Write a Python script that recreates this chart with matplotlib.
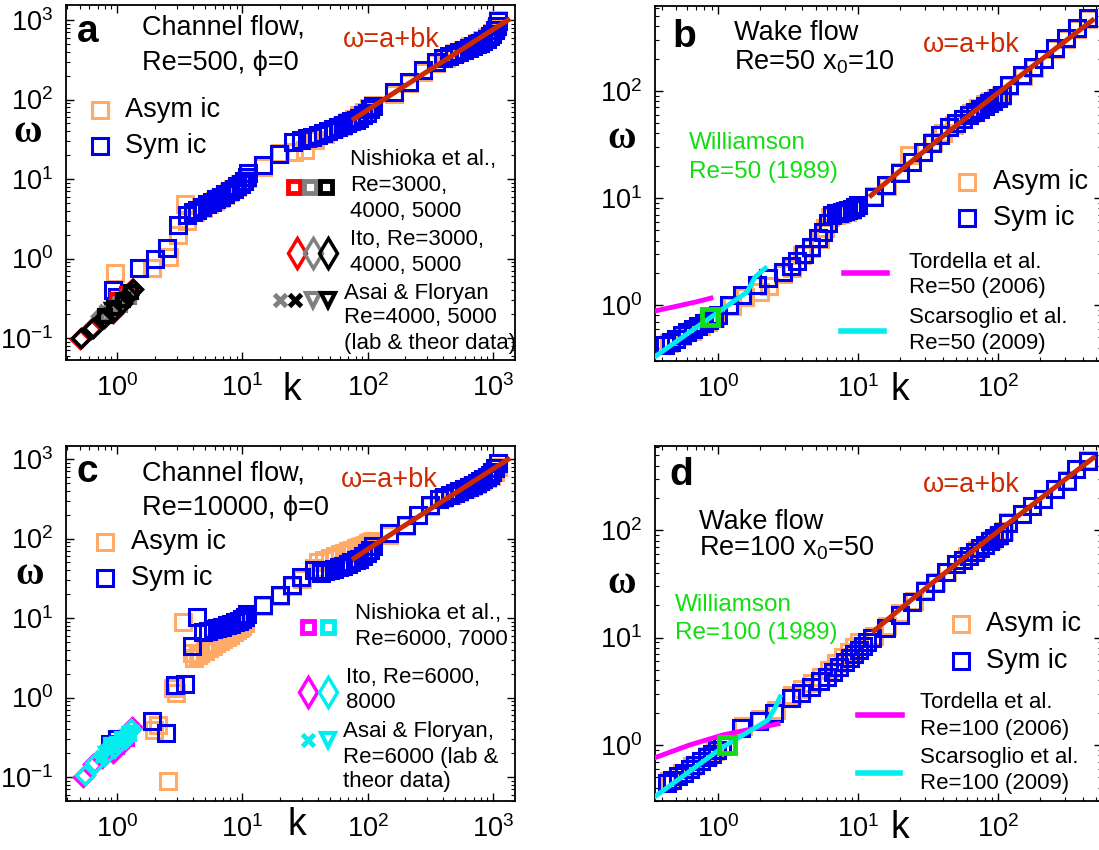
import numpy as np
import matplotlib.pyplot as plt

plt.rcParams['font.family'] = ['Liberation Sans', 'DejaVu Sans']
plt.rcParams['mathtext.fontset'] = 'custom'
plt.rcParams['mathtext.rm'] = 'Liberation Sans'
plt.rcParams['mathtext.it'] = 'Liberation Sans:italic'
plt.rcParams['mathtext.bf'] = 'Liberation Sans:bold'

#%% data
# panel a : channel flow Re=500
a_sym_k = [0.93, 1.0, 1.5, 2.0, 2.5, 3.05, 3.6, 4.0,
           4.3, 4.75, 5.2, 5.7, 6.2, 6.7, 7.3, 7.9, 8.5, 9.1, 9.7, 10.3, 10.8, 11.0,
           14.7, 19.5, 25.5, 29.5, 33,
           36, 40, 44, 48, 53, 58, 63, 68, 74, 80, 86, 92, 98, 104, 110,
           161, 213, 276, 350,
           400, 445, 490, 540, 590, 640, 690, 740, 790, 840, 890, 940, 990,
           1040, 1080, 1100]
a_sym_w = [0.40, 0.33, 0.75, 1.0, 1.34, 2.63, 3.5, 3.9,
           4.1, 4.4, 4.8, 5.2, 5.6, 6.0, 6.5, 7.0, 7.6, 8.1, 8.7, 9.5, 10.6, 11.8,
           15.0, 20.5, 29, 31, 33,
           34, 36, 38, 40, 42.5, 45, 47.5, 50, 53, 56, 59, 63, 68, 75, 84,
           123, 166, 235, 297,
           330, 350, 370, 395, 420, 445, 470, 495, 520, 550, 585, 625, 675,
           750, 850, 970]
a_asym_k = [0.96, 1.9, 2.6, 3.05, 3.5, 3.6, 4.2, 4.8, 5.4, 6.0, 6.6, 7.2, 7.8,
            8.4, 9.0, 9.6, 10.2, 10.8, 14.7, 20, 26, 31.5, 38, 46, 54, 62, 70,
            78, 86, 94, 102, 110, 161, 213, 276, 350, 420, 500, 580, 660, 740,
            820, 900, 980, 1050, 1100]
a_asym_w = [0.65, 0.77, 1.05, 1.96, 4.9, 3.0, 3.8, 4.3, 4.8, 5.3, 5.8, 6.3, 6.8,
            7.4, 8.0, 8.7, 9.5, 10.3, 14.0, 21, 22, 23, 31, 37, 42, 47, 52,
            57, 63, 70, 78, 86, 118, 160, 225, 290, 335, 380, 420, 465, 510,
            560, 620, 690, 800, 1000]
a_fit = (-2.0, 0.76, 75, 1370)       # a, b, k from, k to

a_ito_red_k = [0.50, 0.62, 0.76, 0.92, 1.08, 1.2, 1.32]
a_ito_red_w = [0.098, 0.13, 0.172, 0.205, 0.27, 0.34, 0.41]
a_ito_grey_k = [0.74, 0.88, 1.03, 1.16, 1.28]
a_ito_grey_w = [0.19, 0.22, 0.28, 0.33, 0.39]
a_ito_black_k = [0.51, 0.64, 0.78, 0.93, 1.1, 1.22, 1.34]
a_ito_black_w = [0.10, 0.135, 0.18, 0.21, 0.275, 0.35, 0.42]
a_nish_red_k = [1.0, 1.2]
a_nish_red_w = [0.30, 0.36]
a_nish_grey_k = [0.85, 1.05, 1.25]
a_nish_grey_w = [0.20, 0.26, 0.33]
a_nish_black_k = [0.8, 0.95, 1.12, 1.28]
a_nish_black_w = [0.19, 0.24, 0.30, 0.38]
a_asai_grey_k = [0.82, 0.95, 1.08]
a_asai_grey_w = [0.22, 0.25, 0.29]
a_asai_black_k = [0.9, 1.02]
a_asai_black_w = [0.23, 0.27]

# panel b : wake flow Re=50
b_sym_k = [0.42, 0.46, 0.5, 0.55, 0.6, 0.66, 0.72, 0.79, 0.86, 0.93, 1.0,
           1.2, 1.48, 1.9, 2.27, 2.9, 3.3, 3.66, 4.1, 4.6, 5.2, 5.6, 6.1, 6.5,
           6.9, 7.3, 7.7, 8.1, 8.5, 9.0, 9.5, 10.0,
           13, 15.8, 19.9, 24.3, 29, 33.8, 38.5, 44.6,
           50, 56, 62, 68, 74, 80, 86, 92, 99, 106,
           120, 148, 178, 212, 255, 305, 365, 440]
b_sym_w = [0.42, 0.45, 0.48, 0.52, 0.56, 0.6, 0.64, 0.68, 0.72, 0.76, 0.8,
           1.0, 1.24, 1.55, 1.79, 2.05, 2.3, 2.55, 3.0, 3.5, 4.2, 4.8, 5.8, 6.9,
           7.2, 7.3, 7.45, 7.6, 7.75, 7.95, 8.2, 8.6,
           10.2, 13.2, 17.1, 21.7, 27, 32.6, 38.8, 46,
           50, 54.5, 59, 63.5, 68, 72.5, 77, 81, 86, 92,
           113, 140, 168, 200, 250, 310, 385, 475]
b_asym_k = [0.45, 0.55, 0.65, 0.75, 0.85, 0.95, 1.25, 1.55, 2.0, 2.3, 2.9, 3.4,
            4.0, 4.6, 5.3, 5.8, 6.3, 7.0, 7.6, 8.3, 9.0, 9.7, 13, 16, 20, 23,
            29, 34, 40, 48, 56, 64, 72, 80, 88, 96, 104, 120, 150, 180, 212,
            255, 305, 365, 440]
b_asym_w = [0.44, 0.51, 0.57, 0.63, 0.69, 0.75, 0.98, 1.2, 1.33, 1.5, 1.95, 2.2,
            2.9, 3.4, 4.1, 5.2, 6.6, 6.9, 7.1, 7.4, 7.7, 8.2, 10.5, 13, 17.5, 25,
            27, 33, 40, 48, 55, 62, 69, 75, 80, 85, 90, 112, 138, 165, 198,
            248, 305, 380, 470]
b_fit = (-1.5, 0.974, 12, 485)
b_tord_k = [0.355, 0.5, 0.7, 0.89]
b_tord_w = [0.88, 0.97, 1.07, 1.16]
b_scar_k = [0.355, 0.74, 1.61, 1.84, 2.17]
b_scar_w = [0.33, 0.65, 1.32, 1.83, 2.2]
b_will_k = [0.88]
b_will_w = [0.77]

# panel c : channel flow Re=10000
c_sym_k = [0.88, 1.0, 1.9, 2.45, 2.87, 3.48, 3.96, 4.36,
           4.8, 5.3, 5.8, 6.3, 6.9, 7.5, 8.1, 8.7, 9.3, 9.9, 10.5, 10.9,
           14.7, 20, 25, 29.5, 37,
           42, 46, 50, 54, 59, 64, 69, 74, 80, 86, 92, 98, 104, 110,
           147, 202, 253, 316,
           370, 410, 450, 495, 540, 590, 640, 690, 740, 790, 840, 890, 940, 990,
           1040, 1090]
c_sym_w = [0.26, 0.30, 0.5, 0.36, 1.44, 1.5, 4.4, 10.4,
           6.6, 6.9, 7.2, 7.5, 7.8, 8.1, 8.4, 8.8, 9.2, 9.7, 10.4, 11.2,
           14.6, 19.6, 26, 33, 40,
           37, 38.5, 40, 41.5, 43.5, 45.5, 47.5, 50, 53, 56, 60, 65, 71, 80,
           116, 150, 200, 266,
           315, 335, 355, 378, 400, 425, 450, 475, 500, 530, 560, 595, 635, 690,
           770, 880]
c_asym_k = [2.53, 1.96, 2.1, 2.97, 2.8, 3.37, 3.96, 4.1, 4.4,
            4.6, 5.0, 5.4, 5.8, 6.2, 6.6, 7.0, 7.5, 8.0, 8.5, 9.0, 9.5, 10.0,
            10.5, 14.7, 20, 25, 30, 37,
            40, 45, 50, 55, 60, 65, 70, 75, 80, 85, 90, 95, 100, 105, 110,
            147, 202, 253, 316, 400, 470, 540, 610, 680, 750, 820, 890, 960,
            1030, 1100]
c_asym_w = [0.088, 0.39, 0.45, 1.13, 1.3, 9.0, 3.6, 3.1, 3.4,
            3.6, 3.9, 4.2, 4.5, 4.8, 5.1, 5.4, 5.8, 6.2, 6.6, 7.0, 7.5, 8.0,
            8.6, 14, 19, 25, 31, 42,
            50, 54, 57, 60, 63, 66, 69, 72, 75, 78, 81, 84, 87, 90, 93,
            112, 145, 195, 260, 320, 350, 385, 420, 455, 490, 530, 570, 620,
            690, 800]
c_fit = (-2.0, 0.75, 75, 1370)

c_ito_mag_k = [0.53, 0.64, 0.76, 0.93, 1.12, 1.32]
c_ito_mag_w = [0.10, 0.144, 0.176, 0.2, 0.27, 0.43]
c_ito_cyan_k = [0.55, 0.66, 0.78, 0.95, 1.15, 1.3]
c_ito_cyan_w = [0.105, 0.15, 0.185, 0.23, 0.3, 0.4]
c_nish_mag_k = [0.85, 1.0, 1.2]
c_nish_mag_w = [0.20, 0.24, 0.30]
c_nish_cyan_k = [0.9, 1.1, 1.25]
c_nish_cyan_w = [0.25, 0.30, 0.35]
c_asai_x_k = [0.75, 0.85, 0.95, 1.05, 1.15, 1.25]
c_asai_x_w = [0.18, 0.22, 0.25, 0.28, 0.31, 0.34]
c_asai_v_k = [0.8, 0.9, 1.0, 1.1, 1.2, 1.3]
c_asai_v_w = [0.20, 0.24, 0.27, 0.30, 0.33, 0.37]

# panel d : wake flow Re=100
d_sym_k = [0.43, 0.47, 0.52, 0.57, 0.63, 0.69, 0.76, 0.83, 0.9, 0.98, 1.06,
           1.45, 1.95, 2.5, 3.3, 3.9, 4.6, 5.3, 6.0,
           6.6, 7.3, 8.0, 8.7, 9.4, 10.1, 10.8, 11.5,
           12.6, 15.8, 19.9, 24.3, 30, 35.4, 42.5, 50,
           56, 62, 68, 74, 80, 87, 94, 101, 108,
           118, 148, 175, 210, 255, 310, 360, 440]
d_sym_w = [0.44, 0.47, 0.51, 0.55, 0.6, 0.65, 0.71, 0.77, 0.83, 0.9, 0.98,
           1.45, 1.68, 2.0, 2.75, 3.05, 3.5, 3.9, 4.3,
           4.8, 5.3, 5.9, 6.5, 7.1, 7.7, 8.3, 9.0,
           10, 12.4, 16.4, 21.3, 27, 32.6, 40.5, 48,
           53, 58, 63, 68, 73, 79, 85, 91, 97,
           118, 141, 167, 195, 240, 290, 370, 445]
d_asym_k = [0.45, 0.55, 0.65, 0.75, 0.85, 0.95, 1.5, 2.0, 2.6, 3.4, 4.0, 4.7,
            5.4, 6.2, 7.0, 7.8, 8.6, 9.4, 10.2, 13, 16, 20, 25, 30, 36, 43,
            50, 60, 70, 80, 90, 100, 110, 118, 148, 175, 210, 255, 310, 360, 440]
d_asym_w = [0.46, 0.55, 0.63, 0.71, 0.79, 0.87, 1.5, 1.75, 2.1, 2.9, 3.3, 3.8,
            4.3, 5.0, 5.8, 6.6, 7.4, 8.2, 9.0, 10.3, 12.8, 17, 22, 27.5, 33, 41,
            49, 57, 65, 73, 81, 89, 98, 119, 142, 168, 197, 242, 292, 372, 447]
d_fit = (-1.4, 0.995, 12.6, 494)
d_tord_k = [0.355, 0.63, 1.09, 1.8, 2.68]
d_tord_w = [0.76, 1.0, 1.24, 1.42, 1.57]
d_scar_k = [0.355, 1.09, 2.27, 2.55, 2.77]
d_scar_w = [0.33, 0.96, 1.7, 2.2, 2.8]
d_will_k = [1.16]
d_will_w = [1.0]

#%% style
W, H = 1099, 850
ORANGE = '#ffaa66'
BLUE = '#0000ee'
FIT = '#cc2a00'
GREEN = '#11dd11'
MAG = '#ff00ff'
CYAN = '#00eeee'
GREY = '#808080'
SMALL = 16

fig = plt.figure(figsize=(W / 100, H / 100), dpi=100)


def make_axes(left, top, right, bottom, xlim, ylim):
    ax = fig.add_axes([left / W, 1 - bottom / H, (right - left) / W, (bottom - top) / H])
    ax.set_xscale('log')
    ax.set_yscale('log')
    ax.set_xlim(xlim)
    ax.set_ylim(ylim)
    ax.tick_params(which='both', direction='in', top=True, right=True, labelsize=19.5)
    ax.tick_params(which='major', length=6, width=1)
    ax.tick_params(which='minor', length=3, width=0.8)
    ax.tick_params(axis='x', pad=10)
    ax.tick_params(axis='y', pad=9)
    for s in ax.spines.values():
        s.set_linewidth(1.3)
    return ax


def txt(x, y, s, size=19.5, color='k', **kw):
    fig.text(x / W, 1 - y / H, s, fontsize=size, color=color, ha='left', va='center', **kw)


def glyph(ax, x, y, marker, color, ms, mew, mfc='none'):
    ax.plot([x / W], [1 - y / H], ls='none', marker=marker, ms=ms, mec=color, mfc=mfc,
            mew=mew, transform=fig.transFigure, clip_on=False, zorder=10)


def seg(ax, x0, x1, y, color):
    ax.plot([x0 / W, x1 / W], [1 - y / H, 1 - y / H], color=color, lw=4,
            transform=fig.transFigure, clip_on=False, zorder=10)


def squares(ax, k, w, color, z):
    ax.plot(k, w, ls='none', marker='s', ms=11.5, mfc='none', mec=color, mew=2.2, zorder=z)


def fit_line(ax, fit):
    a, b, k0, k1 = fit
    kk = np.geomspace(k0, k1, 60)
    ax.plot(kk, a + b * kk, color=FIT, lw=3.6, zorder=8, solid_capstyle='butt')


def axis_names(ax, wx, wy, kx, ky):
    ax.text(wx, wy, 'ω', transform=ax.transAxes, fontsize=28, fontweight='bold',
            family='Liberation Serif', ha='center', va='center')
    ax.text(kx, ky, 'k', transform=ax.transAxes, fontsize=27, ha='center', va='center')


#%% panel a
ax = make_axes(66, 5, 515, 360, (0.39, 1500), (0.053, 1545))
squares(ax, a_asym_k, a_asym_w, ORANGE, 2)
squares(ax, a_sym_k, a_sym_w, BLUE, 3)
ax.plot(a_asai_grey_k, a_asai_grey_w, ls='none', marker='x', ms=8, mew=3, color=GREY, zorder=4)
ax.plot(a_asai_black_k, a_asai_black_w, ls='none', marker='v', ms=8, mew=2.5, mfc='none', mec='k', zorder=4)
ax.plot(a_ito_red_k, a_ito_red_w, ls='none', marker='D', ms=9, mew=2.5, mfc='none', mec='red', zorder=5)
ax.plot(a_nish_red_k, a_nish_red_w, ls='none', marker='s', ms=8, mew=3, mfc='none', mec='red', zorder=5)
ax.plot(a_ito_grey_k, a_ito_grey_w, ls='none', marker='D', ms=9, mew=2.5, mfc='none', mec=GREY, zorder=5)
ax.plot(a_nish_grey_k, a_nish_grey_w, ls='none', marker='s', ms=8, mew=3, mfc='none', mec=GREY, zorder=5)
ax.plot(a_ito_black_k, a_ito_black_w, ls='none', marker='D', ms=9, mew=2.5, mfc='none', mec='k', zorder=6)
ax.plot(a_nish_black_k, a_nish_black_w, ls='none', marker='s', ms=8, mew=3, mfc='none', mec='k', zorder=6)
fit_line(ax, a_fit)
axis_names(ax, -0.085, 0.642, 0.503, -0.085)

txt(77, 32, 'a', size=28, fontweight='bold')
txt(142, 27, 'Channel flow,')
txt(142, 63, 'Re=500, ϕ=0')
txt(343, 40, 'ω=a+bk', color=FIT)
glyph(ax, 100, 110, 's', ORANGE, 11.5, 2.2)
glyph(ax, 100, 146, 's', BLUE, 11.5, 2.2)
txt(125, 110, 'Asym ic')
txt(125, 146, 'Sym ic')
txt(350, 159, 'Nishioka et al.,', size=SMALL)
txt(350, 185, 'Re=3000,', size=SMALL)
txt(350, 211, '4000, 5000', size=SMALL)
for x, c in zip([294, 310, 326], ['red', GREY, 'k']):
    glyph(ax, x, 187, 's', c, 8, 3.5)
txt(350, 240, 'Ito, Re=3000,', size=SMALL)
txt(350, 266, '4000, 5000', size=SMALL)
for x, c in zip([297, 313, 328], ['red', GREY, 'k']):
    glyph(ax, x, 253, 'd', c, 15, 2.5)
txt(344, 293, 'Asai & Floryan', size=SMALL)
txt(344, 318, 'Re=4000, 5000', size=SMALL)
txt(344, 343, '(lab & theor data)', size=SMALL)
glyph(ax, 280, 300, 'x', GREY, 9, 3.5)
glyph(ax, 295, 300, 'x', 'k', 9, 3.5)
glyph(ax, 313, 300, 'v', GREY, 10, 3)
glyph(ax, 328, 300, 'v', 'k', 10, 3)

#%% panel b
ax = make_axes(655, 6, 1102, 361, (0.355, 550), (0.30, 620))
squares(ax, b_asym_k, b_asym_w, ORANGE, 2)
squares(ax, b_sym_k, b_sym_w, BLUE, 3)
ax.plot(b_tord_k, b_tord_w, color=MAG, lw=3.5, zorder=5)
ax.plot(b_scar_k, b_scar_w, color=CYAN, lw=3.5, zorder=5)
ax.plot(b_will_k, b_will_w, ls='none', marker='s', ms=11, mew=3.5, mfc='none', mec=GREEN, zorder=6)
fit_line(ax, b_fit)
axis_names(ax, -0.074, 0.628, 0.548, -0.082)

txt(672, 37, 'b', size=28, fontweight='bold')
txt(734, 33, 'Wake flow')
txt(734, 62, 'Re=50 x$_0$=10')
txt(923, 45, 'ω=a+bk', color=FIT)
txt(689, 143, 'Williamson', size=17.5, color=GREEN)
txt(689, 172, 'Re=50 (1989)', size=17.5, color=GREEN)
glyph(ax, 967, 182, 's', ORANGE, 11.5, 2.2)
glyph(ax, 967, 218, 's', BLUE, 11.5, 2.2)
txt(993, 182, 'Asym ic')
txt(993, 218, 'Sym ic')
seg(ax, 844, 887, 273, MAG)
txt(909, 262, 'Tordella et al.', size=SMALL)
txt(909, 287, 'Re=50 (2006)', size=SMALL)
seg(ax, 841, 884, 331, CYAN)
txt(909, 318, 'Scarsoglio et al.', size=SMALL)
txt(909, 343, 'Re=50 (2009)', size=SMALL)

#%% panel c
ax = make_axes(66, 446, 515, 801, (0.39, 1500), (0.05, 1457))
squares(ax, c_asym_k, c_asym_w, ORANGE, 2)
squares(ax, c_sym_k, c_sym_w, BLUE, 3)
ax.plot(c_ito_mag_k, c_ito_mag_w, ls='none', marker='D', ms=9, mew=2.5, mfc='none', mec=MAG, zorder=5)
ax.plot(c_nish_mag_k, c_nish_mag_w, ls='none', marker='s', ms=8, mew=3, mfc='none', mec=MAG, zorder=5)
ax.plot(c_ito_cyan_k, c_ito_cyan_w, ls='none', marker='D', ms=9, mew=2.5, mfc='none', mec=CYAN, zorder=6)
ax.plot(c_nish_cyan_k, c_nish_cyan_w, ls='none', marker='s', ms=8, mew=3, mfc='none', mec=CYAN, zorder=6)
ax.plot(c_asai_x_k, c_asai_x_w, ls='none', marker='x', ms=8, mew=3, color=CYAN, zorder=6)
ax.plot(c_asai_v_k, c_asai_v_w, ls='none', marker='v', ms=8, mew=2.5, mfc='none', mec=CYAN, zorder=6)
fit_line(ax, c_fit)
axis_names(ax, -0.081, 0.637, 0.515, -0.068)

txt(77, 472, 'c', size=28, fontweight='bold')
txt(142, 473, 'Channel flow,')
txt(142, 508, 'Re=10000, ϕ=0')
txt(341, 480, 'ω=a+bk', color=FIT)
glyph(ax, 105, 542, 's', ORANGE, 11.5, 2.2)
glyph(ax, 105, 578, 's', BLUE, 11.5, 2.2)
txt(131, 542, 'Asym ic')
txt(131, 578, 'Sym ic')
txt(355, 613, 'Nishioka et al.,', size=SMALL)
txt(355, 640, 'Re=6000, 7000', size=SMALL)
glyph(ax, 308, 627, 's', MAG, 8, 3.5)
glyph(ax, 328, 627, 's', CYAN, 8, 3.5)
txt(346, 678, 'Ito, Re=6000,', size=SMALL)
txt(346, 703, '8000', size=SMALL)
glyph(ax, 308, 692, 'd', MAG, 15, 2.5)
glyph(ax, 328, 692, 'd', CYAN, 15, 2.5)
txt(343, 732, 'Asai & Floryan,', size=SMALL)
txt(343, 757, 'Re=6000 (lab &', size=SMALL)
txt(343, 782, 'theor data)', size=SMALL)
glyph(ax, 308, 740, 'x', CYAN, 9, 3.5)
glyph(ax, 328, 740, 'v', CYAN, 10, 3)

#%% panel d
ax = make_axes(655, 446, 1102, 801, (0.355, 550), (0.30, 610))
squares(ax, d_asym_k, d_asym_w, ORANGE, 2)
squares(ax, d_sym_k, d_sym_w, BLUE, 3)
ax.plot(d_tord_k, d_tord_w, color=MAG, lw=3.5, zorder=5)
ax.plot(d_scar_k, d_scar_w, color=CYAN, lw=3.5, zorder=5)
ax.plot(d_will_k, d_will_w, ls='none', marker='s', ms=11, mew=3.5, mfc='none', mec=GREEN, zorder=6)
fit_line(ax, d_fit)
axis_names(ax, -0.074, 0.614, 0.548, -0.076)

txt(669, 475, 'd', size=28, fontweight='bold')
txt(699, 522, 'Wake flow')
txt(699, 548, 'Re=100 x$_0$=50')
txt(923, 485, 'ω=a+bk', color=FIT)
txt(675, 605, 'Williamson', size=17.5, color=GREEN)
txt(675, 633, 'Re=100 (1989)', size=17.5, color=GREEN)
glyph(ax, 961, 624, 's', ORANGE, 11.5, 2.2)
glyph(ax, 961, 661, 's', BLUE, 11.5, 2.2)
txt(986, 624, 'Asym ic')
txt(986, 661, 'Sym ic')
seg(ax, 858, 902, 715, MAG)
txt(920, 703, 'Tordella et al.', size=SMALL)
txt(920, 730, 'Re=100 (2006)', size=SMALL)
seg(ax, 858, 900, 773, CYAN)
txt(920, 758, 'Scarsoglio et al.', size=SMALL)
txt(920, 783, 'Re=100 (2009)', size=SMALL)

fig.savefig('out.png', dpi=100)
